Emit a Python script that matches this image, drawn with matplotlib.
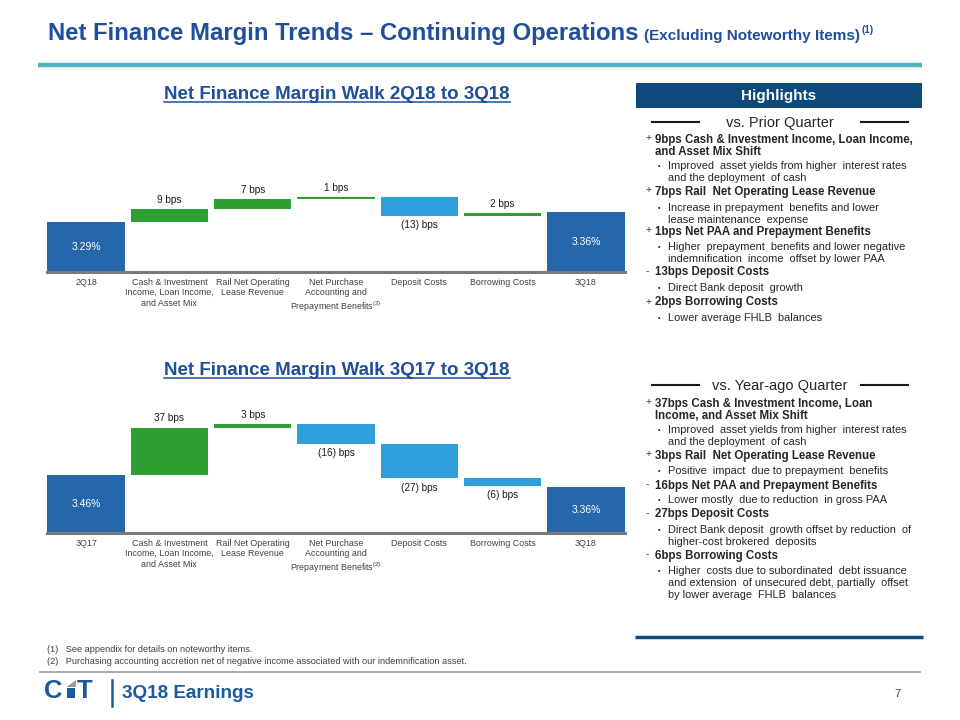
import matplotlib
matplotlib.use("Agg")
import matplotlib.pyplot as plt
from matplotlib import font_manager
from matplotlib.patches import Rectangle, Polygon

names = {f.name for f in font_manager.fontManager.ttflist}
BASE = "Liberation Sans" if "Liberation Sans" in names else "DejaVu Sans"
NARROW = "Liberation Sans Narrow" if "Liberation Sans Narrow" in names else BASE
plt.rcParams["font.family"] = [BASE, "DejaVu Sans"]
plt.rcParams["mathtext.fontset"] = "custom"
plt.rcParams["mathtext.rm"] = BASE
plt.rcParams["mathtext.it"] = BASE

# ---------------- data ----------------
driver_labels = ["Cash & Investment\nIncome, Loan Income,\nand Asset Mix",
                 "Rail Net Operating\nLease Revenue",
                 "Net Purchase\nAccounting and\nPrepayment Benefits$^{(2)}$",
                 "Deposit Costs",
                 "Borrowing Costs"]
qoq_periods = ["2Q18", "3Q18"]
qoq_start = 3.29
qoq_end = 3.36
qoq_bps = [9, 7, 1, -13, 2]

yoy_periods = ["3Q17", "3Q18"]
yoy_start = 3.46
yoy_end = 3.36
yoy_bps = [37, 3, -16, -27, -6]

prior_quarter = [
    ("+", "9bps Cash & Investment Income, Loan Income,\nand Asset Mix Shift",
     "Improved  asset yields from higher  interest rates\nand the deployment  of cash"),
    ("+", "7bps Rail  Net Operating Lease Revenue",
     "Increase in prepayment  benefits and lower\nlease maintenance  expense"),
    ("+", "1bps Net PAA and Prepayment Benefits",
     "Higher  prepayment  benefits and lower negative\nindemnification  income  offset by lower PAA"),
    ("-", "13bps Deposit Costs",
     "Direct Bank deposit  growth"),
    ("+", "2bps Borrowing Costs",
     "Lower average FHLB  balances"),
]
year_ago = [
    ("+", "37bps Cash & Investment Income, Loan\nIncome, and Asset Mix Shift",
     "Improved  asset yields from higher  interest rates\nand the deployment  of cash"),
    ("+", "3bps Rail  Net Operating Lease Revenue",
     "Positive  impact  due to prepayment  benefits"),
    ("-", "16bps Net PAA and Prepayment Benefits",
     "Lower mostly  due to reduction  in gross PAA"),
    ("-", "27bps Deposit Costs",
     "Direct Bank deposit  growth offset by reduction  of\nhigher-cost brokered  deposits"),
    ("-", "6bps Borrowing Costs",
     "Higher  costs due to subordinated  debt issuance\nand extension  of unsecured debt, partially  offset\nby lower average  FHLB  balances"),
]

# ---------------- styles ----------------
TITLE = "#1F4E9A"
NAVY = "#0D4A7B"
TOTAL = "#2667AB"
GREEN = "#2E9F33"
LBLUE = "#2E9FDA"
TEAL = "#52B4BC"
GRAY = "#404040"
LOGO = "#1B5A9E"

W, H = 960, 720
fig = plt.figure(figsize=(9.6, 7.2), dpi=100)
fig.patch.set_facecolor("white")

ov = fig.add_axes([0, 0, 1, 1])
ov.set_xlim(0, W)
ov.set_ylim(H, 0)
ov.axis("off")
ov.set_facecolor("none")
renderer = fig.canvas.get_renderer()


def px_extent(t):
    bb = t.get_window_extent(renderer=renderer)
    inv = ov.transData.inverted()
    (x0, y0), (x1, y1) = inv.transform([(bb.x0, bb.y0), (bb.x1, bb.y1)])
    return x0, x1, min(y0, y1), max(y0, y1)


# ---------------- header ----------------
t1 = ov.text(48, 40, "Net Finance Margin Trends \u2013 Continuing Operations", fontsize=17.2,
             fontweight="bold", color=TITLE, va="baseline", ha="left", family=NARROW)
x0, x1, _, _ = px_extent(t1)
t2 = ov.text(x1 + 6, 40, "(Excluding Noteworthy Items)", fontsize=11, fontweight="bold",
             color=TITLE, va="baseline", ha="left", family=NARROW)
x0, x1, _, _ = px_extent(t2)
ov.text(x1 + 1, 33, "(1)", fontsize=7, fontweight="bold", color=TITLE, va="baseline",
        ha="left", family=NARROW)
ov.plot([38, 922], [65, 65], color=TEAL, lw=3.2, solid_capstyle="butt")


# ---------------- waterfall charts ----------------
def waterfall(rect, periods, start, end, bps, ymin, ymax):
    ax = fig.add_axes(rect)
    ax.set_facecolor("none")
    n = len(bps) + 2
    ax.bar(0, start - ymin, bottom=ymin, width=0.93, color=TOTAL, zorder=2)
    ax.text(0, (start + ymin) / 2, f"{start:.2f}%", color="white", fontsize=7.5,
            ha="center", va="center", zorder=3)
    cum = start
    for i, d in enumerate(bps):
        h = d / 100.0
        ax.bar(i + 1, h, bottom=cum, width=0.93, color=GREEN if d > 0 else LBLUE, zorder=2)
        lab = f"{d} bps" if d > 0 else f"({-d}) bps"
        if d > 0:
            ax.annotate(lab, (i + 1, cum + h), xytext=(0, 3), textcoords="offset points",
                        ha="center", va="bottom", fontsize=7.2, color="#1a1a1a")
        else:
            ax.annotate(lab, (i + 1, cum + h), xytext=(0, -3), textcoords="offset points",
                        ha="center", va="top", fontsize=7.2, color="#1a1a1a")
        cum += h
    ax.bar(n - 1, end - ymin, bottom=ymin, width=0.93, color=TOTAL, zorder=2)
    ax.text(n - 1, (end + ymin) / 2, f"{end:.2f}%", color="white", fontsize=7.5,
            ha="center", va="center", zorder=3)
    ax.axhline(ymin, color="#7a7a7a", lw=2.2, zorder=4, clip_on=False)
    ax.set_ylim(ymin, ymax)
    ax.set_xlim(-0.47, n - 1 + 0.47)
    ax.set_xticks(range(n))
    ax.set_xticklabels([periods[0]] + driver_labels + [periods[1]], fontsize=6.4,
                       color=GRAY, linespacing=1.25)
    ax.tick_params(length=0, pad=4)
    ax.set_yticks([])
    for s in ax.spines.values():
        s.set_visible(False)
    return ax


def rect_px(left, top, right, bottom):
    return [left / W, 1 - bottom / H, (right - left) / W, (bottom - top) / H]


# top chart: baseline at y=272, 1.45 px per bp
waterfall(rect_px(47, 170, 625, 272), qoq_periods, qoq_start, qoq_end, qoq_bps,
          2.945, 2.945 + 102 / 145.0)
# bottom chart: baseline at y=533, 1.27 px per bp
waterfall(rect_px(47, 400, 625, 533), yoy_periods, yoy_start, yoy_end, yoy_bps,
          3.0, 3.0 + 133 / 127.0)


def chart_title(x, y, s):
    t = ov.text(x, y, s, fontsize=13.5, fontweight="bold", color=TITLE, ha="center",
                va="baseline", family=NARROW)
    a, b, _, _ = px_extent(t)
    ov.plot([a, b], [y + 3, y + 3], color=TITLE, lw=1.1)


chart_title(337, 99, "Net Finance Margin Walk 2Q18 to 3Q18")
chart_title(337, 375, "Net Finance Margin Walk 3Q17 to 3Q18")

# ---------------- highlights ----------------
ov.add_patch(Rectangle((636, 83), 286, 25, color=NAVY, lw=0))
ov.text(779, 96, "Highlights", color="white", fontsize=11, fontweight="bold",
        ha="center", va="center")


def section(y, title, items, ys):
    ov.text(780, y, title, fontsize=10.5, color="#262626", ha="center", va="center")
    ov.plot([652, 699], [y - 1, y - 1], color="#1a1a1a", lw=1.5)
    ov.plot([861, 908], [y - 1, y - 1], color="#1a1a1a", lw=1.5)
    for (sign, head, sub), (yh, ys_) in zip(items, ys):
        ov.text(646, yh, sign, fontsize=7.5, color="#3a3a3a", ha="left", va="top")
        ov.text(655, yh, head, fontsize=8.3, fontweight="bold", color="#262626",
                ha="left", va="top", linespacing=1.05)
        ov.text(658, ys_ + 1.5, "\u25aa", fontsize=5, color="#262626", ha="left", va="top")
        ov.text(668, ys_, sub, fontsize=7.9, color="#262626", ha="left", va="top",
                linespacing=1.27)


# y values are tops of the first line of each entry (heading, sub-bullet)
section(123, "vs. Prior Quarter", prior_quarter,
        [(133.5, 161), (185.5, 203), (225.5, 242), (266.5, 283), (296.5, 313)])
section(386, "vs. Year-ago Quarter", year_ago,
        [(397.5, 425), (449.5, 466), (479.5, 495), (508.5, 525), (549.5, 566)])
ov.plot([635, 923], [637, 637], color=NAVY, lw=2.5, solid_capstyle="butt")

# ---------------- footer ----------------
ov.text(47, 650, "(1)   See appendix for details on noteworthy items.", fontsize=6.6,
        color=GRAY, va="center", ha="left")
ov.text(47, 662, "(2)   Purchasing accounting accretion net of negative income associated with our indemnification asset.",
        fontsize=6.6, color=GRAY, va="center", ha="left")
ov.plot([40, 920], [672, 672], color="#9a9a9a", lw=1.2)

# logo
ov.text(44, 697.5, "C", fontsize=18.5, fontweight="bold", color=LOGO, ha="left",
        va="baseline")
ov.add_patch(Rectangle((66.5, 688), 8.5, 9.5, color=LOGO, lw=0))
ov.add_patch(Polygon([[66.5, 687], [76, 680], [76, 687]], closed=True, color="#9a9a9a", lw=0))
ov.text(77, 697.5, "T", fontsize=18.5, fontweight="bold", color=LOGO, ha="left",
        va="baseline")
ov.plot([112, 112], [680, 706], color=LOGO, lw=1.8)
ov.text(122, 694, "3Q18 Earnings", fontsize=13.6, fontweight="bold", color=LOGO,
        ha="left", va="center")
ov.text(897, 694, "7", fontsize=8, color=GRAY, ha="center", va="center")

fig.savefig("out.png", dpi=100, facecolor="white")
